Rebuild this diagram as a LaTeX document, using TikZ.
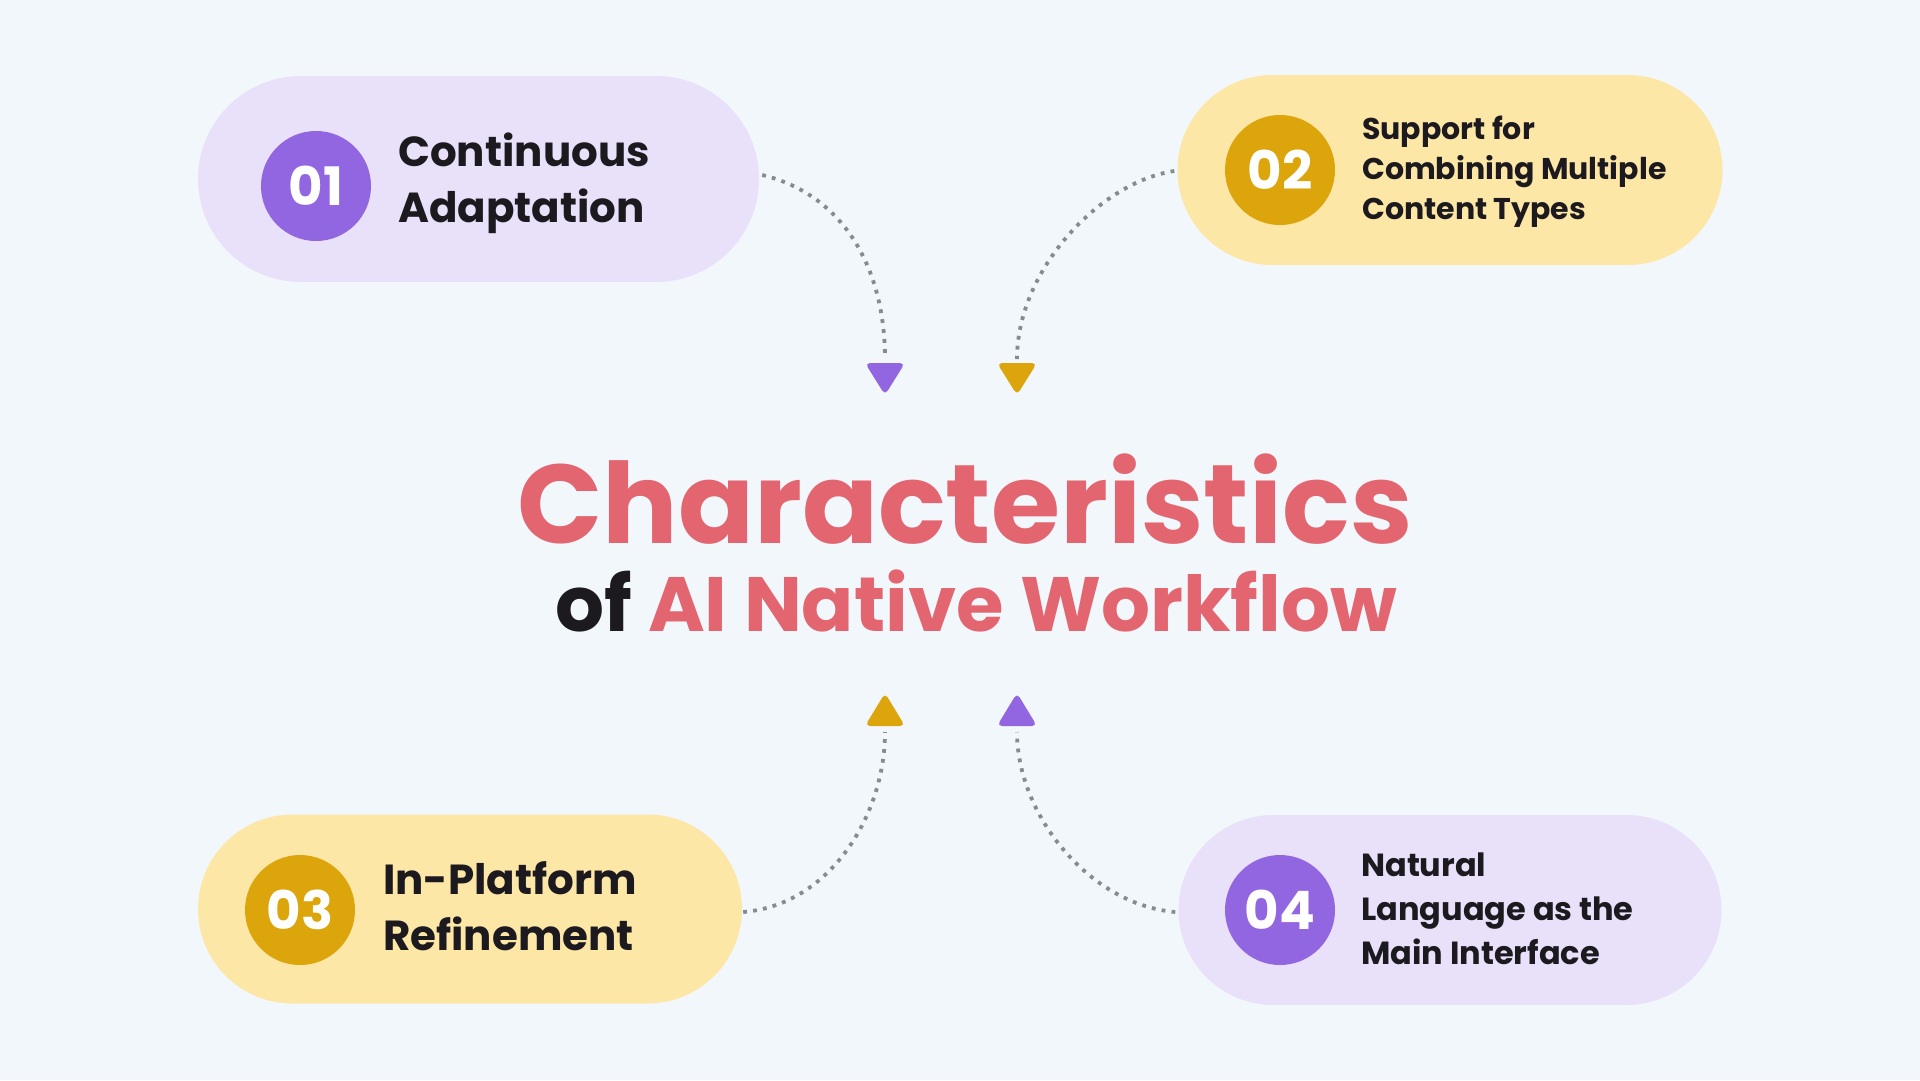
\documentclass[tikz,border=0pt]{standalone}
\usepackage{fontspec}
\setmainfont{Poppins}
\usetikzlibrary{calc}
\definecolor{bgc}{HTML}{F2F7FC}
\definecolor{pillP}{HTML}{E9E0FA}
\definecolor{circP}{HTML}{9166E0}
\definecolor{pillY}{HTML}{FDE7A6}
\definecolor{circY}{HTML}{DCA50C}
\definecolor{titleR}{HTML}{E3656F}
\definecolor{darkT}{HTML}{1C1A1F}
\definecolor{dotG}{HTML}{868B92}
\tikzset{
  pill/.style={draw=none, rounded corners=94pt, inner sep=0pt},
  numcirc/.style={circle, draw=none, minimum size=110pt, inner sep=0pt, text=white,
    font=\bfseries\fontsize{53}{53}\selectfont},
  bigtxt/.style={anchor=base west, align=left, inner sep=0pt, text=darkT,
    font=\bfseries\fontsize{42}{56}\selectfont},
  smalltxt/.style={anchor=base west, align=left, inner sep=0pt, text=darkT,
    font=\bfseries\fontsize{30}{40}\selectfont},
  dotline/.style={draw=dotG, line width=3.8pt, dash pattern=on 3.8pt off 6.2pt},
  tri/.style={rounded corners=5pt}
}
\begin{document}
\begin{tikzpicture}[x=1pt,y=-1pt]
\fill[bgc] (0,0) rectangle (1920,1080);
\useasboundingbox (0,0) rectangle (1920,1080);
% pills
\node[pill, fill=pillP, minimum width=561pt, minimum height=206pt, rounded corners=103pt] (p1) at (478.5,179) {};
\node[pill, fill=pillY, minimum width=545pt, minimum height=190pt, rounded corners=95pt] (p2) at (1450,170) {};
\node[pill, fill=pillY, minimum width=544pt, minimum height=189pt, rounded corners=94.5pt] (p3) at (470,909) {};
\node[pill, fill=pillP, minimum width=543pt, minimum height=190pt, rounded corners=95pt] (p4) at (1450,910) {};
% circles
\node[numcirc, fill=circP] (c1) at (316,186) {01};
\node[numcirc, fill=circY] (c2) at (1280,170) {02};
\node[numcirc, fill=circY] (c3) at (300,910) {03};
\node[numcirc, fill=circP] (c4) at (1280,910) {04};
% texts (anchor = baseline of the last line)
\node[bigtxt] (t1) at (398,222) {Continuous\\Adaptation};
\node[smalltxt] (t2) at (1362,219) {Support for\\Combining Multiple\\Content Types};
\node[bigtxt] (t3) at (383,950) {In-Platform\\Refinement};
\node[smalltxt, font=\bfseries\fontsize{32}{44}\selectfont] (t4) at (1361,964) {Natural\\Language as the\\Main Interface};
% title
\node[anchor=base, inner sep=0pt, text=titleR, font=\bfseries\fontsize{112}{112}\selectfont] (title) at (965,543) {Characteristics};
\node[anchor=base, inner sep=0pt, font=\bfseries\fontsize{77}{77}\selectfont] (sub) at (976,631) {\textcolor{darkT}{of} \textcolor{titleR}{AI Native Workflow}};
% arrow heads
\coordinate (a1) at (885,363);
\coordinate (a2) at (1017,363);
\coordinate (a3) at (885,726);
\coordinate (a4) at (1017,726);
\fill[circP, tri] ($(a1)+(-20,0)$) -- ($(a1)+(20,0)$) -- ($(a1)+(0,32)$) -- cycle;
\fill[circY, tri] ($(a2)+(-20,0)$) -- ($(a2)+(20,0)$) -- ($(a2)+(0,32)$) -- cycle;
\fill[circY, tri] ($(a3)+(-20,0)$) -- ($(a3)+(20,0)$) -- ($(a3)+(0,-33)$) -- cycle;
\fill[circP, tri] ($(a4)+(-20,0)$) -- ($(a4)+(20,0)$) -- ($(a4)+(0,-33)$) -- cycle;
% connectors
\draw[dotline] ($(p1.east)+(3,-4)$) .. controls (845,195) and (885,270) .. ($(a1)+(0,-4)$);
\draw[dotline] ($(p2.west)+(-3,1)$) .. controls (1100,182) and (1017,270) .. ($(a2)+(0,-4)$);
\draw[dotline] ($(p3.east)+(1,3)$) .. controls (830,905) and (885,815) .. ($(a3)+(0,6)$);
\draw[dotline] ($(p4.west)+(-3,2)$) .. controls (1090,905) and (1017,815) .. ($(a4)+(0,6)$);
\end{tikzpicture}
\end{document}
